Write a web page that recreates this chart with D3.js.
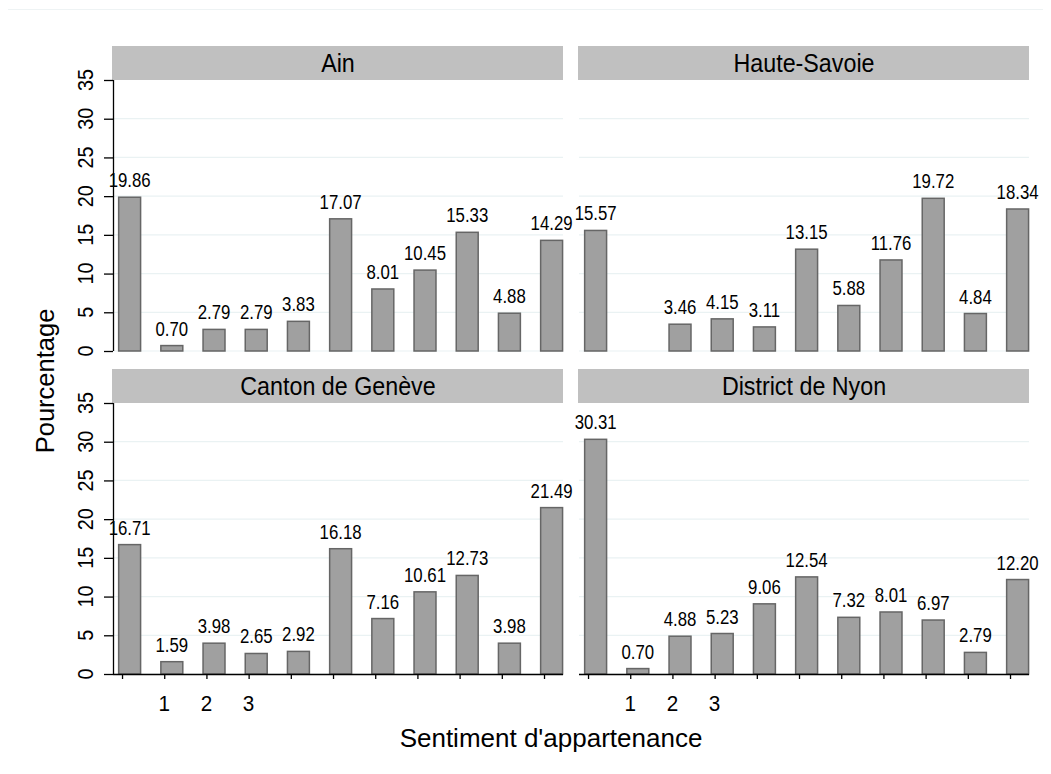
<!DOCTYPE html>
<html><head><meta charset="utf-8">
<script src="https://cdn.jsdelivr.net/npm/d3@7"></script>
<style>body{margin:0;background:#fff}svg{display:block}text{font-family:"Liberation Sans",Arial,sans-serif;fill:#000}</style>
</head><body><svg id="c" width="1051" height="774"></svg>
<script>
const categories = [0,1,2,3,4,5,6,7,8,9,10];
const tickLabels = {1:"1",2:"2",3:"3"};
const yTicks = [0,5,10,15,20,25,30,35];
const panelNames = ["Ain","Haute-Savoie","Canton de Genève","District de Nyon"];
const ain = [19.86,0.70,2.79,2.79,3.83,17.07,8.01,10.45,15.33,4.88,14.29];
const hauteSavoie = [15.57,null,3.46,4.15,3.11,13.15,5.88,11.76,19.72,4.84,18.34];
const geneve = [16.71,1.59,3.98,2.65,2.92,16.18,7.16,10.61,12.73,3.98,21.49];
const nyon = [30.31,0.70,4.88,5.23,9.06,12.54,7.32,8.01,6.97,2.79,12.20];
const series = [ain,hauteSavoie,geneve,nyon];
const yTitle = "Pourcentage", xTitle = "Sentiment d'appartenance";

const svg = d3.select("#c");
svg.append("line").attr("x1",8).attr("x2",1043).attr("y1",9.5).attr("y2",9.5).attr("stroke","#eef3f4");

const W = 450, H = 271, stripH = 34;
const lefts = [113,579], tops = [80,403];
const x = d3.scaleLinear().domain([-0.214,10.45]).range([0,W]);
const y = d3.scaleLinear().domain([0,35]).range([H,0]);
const barOff = 0.18, barW = 0.52;

panelNames.forEach((name,i)=>{
  const col = i%2, row = Math.floor(i/2);
  const g = svg.append("g").attr("transform",`translate(${lefts[col]},${tops[row]})`);
  g.append("rect").attr("x",-1).attr("y",-stripH).attr("width",W+1).attr("height",stripH).attr("fill","#c0c0c0");
  g.append("text").attr("transform",`translate(${W/2},${-8}) scale(0.97,1.05)`).attr("text-anchor","middle").attr("font-size",24).text(name);
  g.selectAll(".grid").data(yTicks.filter(t=>t<35)).enter().append("line")
    .attr("x1",0).attr("x2",W).attr("y1",d=>y(d)).attr("y2",d=>y(d)).attr("stroke","#eaf2f3").attr("stroke-width",1.2);
  const data = categories.map((c,k)=>({c,v:series[i][k]})).filter(d=>d.v!=null);
  g.selectAll(".bar").data(data).enter().append("rect")
    .attr("x",d=>x(d.c+barOff-barW/2)).attr("width",x(barW)-x(0))
    .attr("y",d=>y(d.v)).attr("height",d=>y(0)-y(d.v))
    .attr("fill","#a0a0a0").attr("stroke","#666").attr("stroke-width",1.5);
  g.selectAll(".lbl").data(data).enter().append("text")
    .attr("transform",d=>`translate(${x(d.c+barOff)},${y(d.v)-10}) scale(0.8,1)`).attr("text-anchor","middle")
    .attr("font-size",21).text(d=>d.v.toFixed(2));
  if(col===0){
    const ya = g.append("g").call(d3.axisLeft(y).tickValues(yTicks).tickSize(9).tickFormat(""));
    ya.selectAll("path,line").attr("stroke","#000").attr("stroke-width",1.3);
    ya.select("path").attr("d",`M0.5,${H}V0`);
    g.selectAll(".yl").data(yTicks).enter().append("text")
      .attr("transform",d=>`translate(${-20},${y(d)}) rotate(-90) scale(0.88,1)`).attr("text-anchor","middle")
      .attr("font-size",22.5).text(d=>d);
  }
  if(row===1){
    const xa = g.append("g").attr("transform",`translate(0,${H})`)
      .call(d3.axisBottom(x).tickValues(categories).tickSize(5).tickFormat(""));
    xa.select("path").attr("d",`M0,0.5H${W}`).attr("stroke","#000").attr("stroke-width",1.3);
    xa.selectAll("line").attr("stroke","#000").attr("stroke-width",1.3);
    g.selectAll(".xl").data(categories.filter(c=>tickLabels[c])).enter().append("text")
      .attr("transform",d=>`translate(${x(d)},${H+37}) scale(0.92,1)`).attr("text-anchor","middle")
      .attr("font-size",22.5).text(d=>tickLabels[d]);
  }
});
svg.append("text").attr("transform","translate(54,381) rotate(-90)").attr("text-anchor","middle").attr("font-size",25.5).text(yTitle);
svg.append("text").attr("x",551).attr("y",747).attr("text-anchor","middle").attr("font-size",26).text(xTitle);
</script></body></html>
